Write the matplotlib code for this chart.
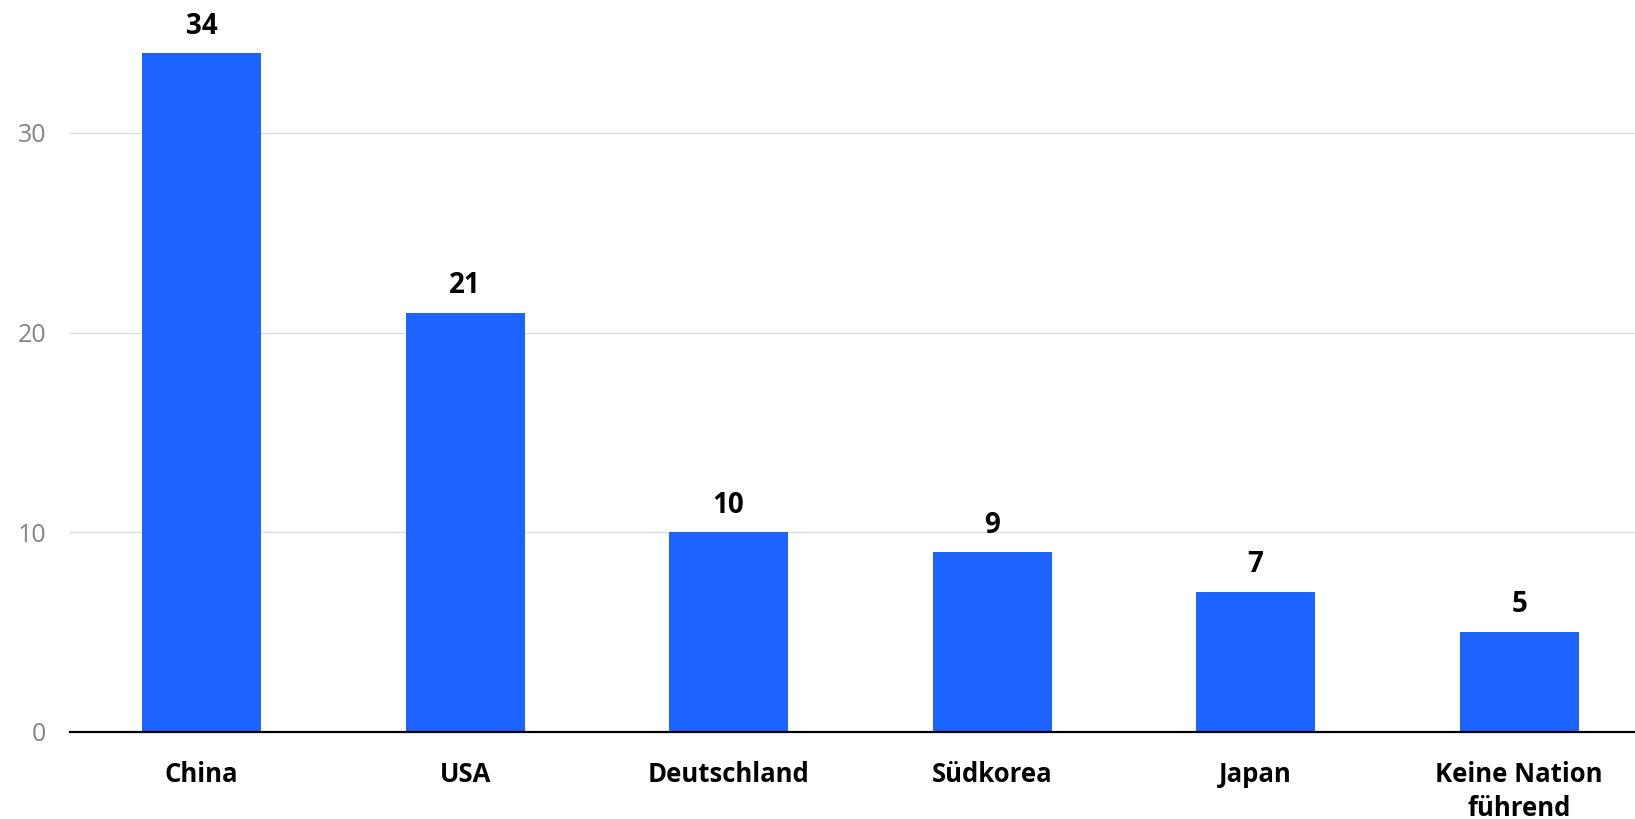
import matplotlib
matplotlib.use("Agg")
import matplotlib.pyplot as plt

categories = ["China", "USA", "Deutschland", "Südkorea", "Japan", "Keine Nation\nführend"]
values = [34, 21, 10, 9, 7, 5]
yticks = [0, 10, 20, 30]

plt.rcParams['font.family'] = ['Open Sans', 'DejaVu Sans']

W, H = 1635, 819
fig = plt.figure(figsize=(W / 100, H / 100), dpi=100)
ax_left, ax_right, ax_bottom, ax_top = 70, 1635, 819 - 731.7, 819
ax = fig.add_axes([ax_left / W, ax_bottom / H, (ax_right - ax_left) / W, (ax_top - ax_bottom) / H])

x = list(range(len(categories)))
ax.bar(x, values, width=0.452, color="#1c63ff", zorder=2)
for xi, v in zip(x, values):
    ax.annotate(str(v), (xi, v), xytext=(0, 9), textcoords="offset points",
                ha="center", va="bottom", fontsize=20, fontweight="bold", color="#000000")

ax.set_xlim(-0.5, 5.44)
ax.set_ylim(0, 36.66)
ax.set_yticks(yticks)
ax.set_yticklabels([str(t) for t in yticks], fontsize=18, color="#858585")
ax.set_xticks(x)
ax.set_xticklabels(categories, fontsize=18.5, fontweight="bold", color="#000000", linespacing=1.35)
ax.tick_params(axis="y", length=0, pad=17)
ax.tick_params(axis="x", length=0, pad=21)
ax.grid(axis="y", color="#dcdcdc", linewidth=1, zorder=0)
for s in ["top", "right", "left"]:
    ax.spines[s].set_visible(False)
ax.spines["bottom"].set_color("#000000")
ax.spines["bottom"].set_linewidth(1.6)
ax.spines["bottom"].set_zorder(3)

fig.savefig("out.png", dpi=100)
